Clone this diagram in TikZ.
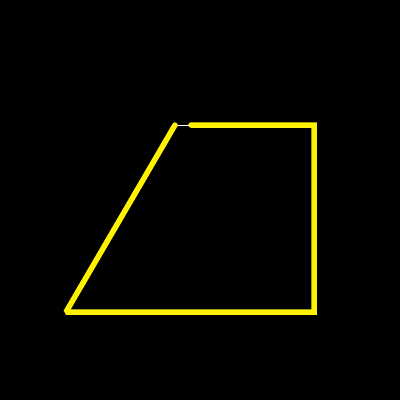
\documentclass[tikz,border=0pt]{standalone}
\begin{document}
\begin{tikzpicture}[x=1pt,y=-1pt,
  edge/.style={draw=yellow,line width=5.5pt,line join=miter,miter limit=1.5,line cap=round}]
\fill[black] (0,0) rectangle (400,400);
\useasboundingbox (0,0) rectangle (400,400);
\coordinate (a) at (191,125);
\coordinate (b) at (314,125);
\coordinate (c) at (314,312);
\coordinate (d) at (66,312);
\coordinate (e) at (175,125);
\coordinate (w1) at (177,125);
\coordinate (w2) at (190,125);
\draw[edge] (a) -- (b) -- (c) -- (d) -- (e);
\draw[white,line width=1pt] (w1) -- (w2);
\end{tikzpicture}
\end{document}
